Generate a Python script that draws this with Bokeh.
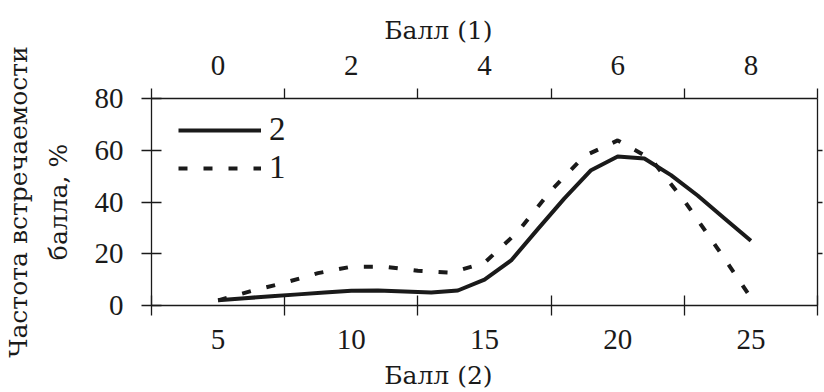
from bokeh.plotting import figure
from bokeh.models import LinearAxis, Range1d, FixedTicker, Legend, LegendItem
from bokeh.embed import file_html
from bokeh.resources import INLINE

# ---- data ----
# series 2 : bottom axis "Балл (2)"
score2 = [5, 6, 7, 8, 9, 10, 11, 12, 13, 14, 15, 16, 17, 18, 19, 20, 21, 22, 23, 24, 25]
freq2 = [2.0, 2.8, 3.6, 4.3, 5.0, 5.7, 5.8, 5.4, 5.0, 5.8, 10.0, 17.4, 29.5, 41.4, 52.3,
         57.6, 56.8, 50.4, 42.5, 33.7, 25.0]
# series 1 : top axis "Балл (1)"
score1 = [0, 0.5, 1, 1.5, 2, 2.5, 3, 3.5, 4, 4.5, 5, 5.5, 6, 6.5, 7, 7.5, 8]
freq1 = [2.0, 5.6, 8.8, 12.5, 15.0, 15.0, 13.4, 12.7, 16.5, 28.5, 44.5, 57.8, 63.8,
         56.6, 40.5, 22.0, 3.0]

bottom_ticks = [5, 10, 15, 20, 25]
bottom_minor = [2.5, 7.5, 12.5, 17.5, 22.5, 27.5]
top_ticks = [0, 2, 4, 6, 8]
top_minor = [-1, 1, 3, 5, 7, 9]
y_ticks = [0, 20, 40, 60, 80]
right_ticks = [20, 40, 60]

label_top = "Балл (1)"
label_bottom = "Балл (2)"
label_y1 = "Частота встречаемости"
label_y2 = "балла, %"
legend_labels = ["2", "1"]

FONT = "'Liberation Serif', 'Times New Roman', serif"
CYR_FONT = "DejaVu Serif"          # serif face that carries Cyrillic glyphs
INK = "#1a1a1a"
FS = "29px"
TFS = "25px"

x_lo, x_hi = 2.5, 27.5
# top scale: score1 = (score2 - 5) * 0.4
p = figure(width=824, height=392, output_backend="svg", toolbar_location=None,
           x_range=Range1d(x_lo, x_hi), y_range=Range1d(0, 80),
           min_border_left=146, min_border_right=7, min_border_top=98, min_border_bottom=87)
p.extra_x_ranges = {"top": Range1d((x_lo - 5) * 0.4, (x_hi - 5) * 0.4)}
p.xgrid.visible = False
p.ygrid.visible = False
p.outline_line_color = None
p.background_fill_color = "white"
p.border_fill_color = "white"

def style_axis(ax, fs=FS):
    ax.axis_line_color = INK
    ax.axis_line_width = 1.3
    ax.major_tick_line_color = INK
    ax.minor_tick_line_color = INK
    ax.major_tick_line_width = 1.3
    ax.minor_tick_line_width = 1.3
    ax.major_label_text_font = FONT
    ax.major_label_text_font_size = fs
    ax.major_label_text_color = INK

bx = p.xaxis[0]
bx.ticker = FixedTicker(ticks=bottom_ticks, minor_ticks=bottom_minor)
bx.major_tick_in = 0
bx.major_tick_out = 0
bx.minor_tick_in = 10
bx.minor_tick_out = 10
bx.major_label_standoff = 14
style_axis(bx)

tx = LinearAxis(x_range_name="top", ticker=FixedTicker(ticks=top_ticks, minor_ticks=top_minor))
tx.major_tick_in = 0
tx.major_tick_out = 0
tx.minor_tick_in = 0
tx.minor_tick_out = 10
tx.major_label_standoff = 14
style_axis(tx)
p.add_layout(tx, "above")

ly = p.yaxis[0]
ly.ticker = FixedTicker(ticks=y_ticks, minor_ticks=[])
ly.major_tick_in = 10
ly.major_tick_out = 10
ly.major_label_standoff = 18
style_axis(ly)

ry = LinearAxis(ticker=FixedTicker(ticks=right_ticks, minor_ticks=[]))
style_axis(ry)
ry.major_tick_in = 0
ry.major_tick_out = 5
ry.major_label_overrides = {t: "" for t in right_ticks}
ry.major_label_standoff = 0
p.add_layout(ry, "right")

r2 = p.line(score2, freq2, line_width=4, line_color=INK, line_join="round")
r1 = p.line(score1, freq1, x_range_name="top", line_width=4, line_color=INK,
            line_dash="9 16")

# axis titles drawn as single labels of bare axes
def title_axis(text, at, standoff, orientation="horizontal"):
    ax = LinearAxis(ticker=FixedTicker(ticks=[at], minor_ticks=[]),
                    major_label_overrides={at: text})
    ax.axis_line_color = None
    ax.major_tick_line_color = None
    ax.minor_tick_line_color = None
    ax.major_tick_in = 0
    ax.major_tick_out = 0
    ax.minor_tick_in = 0
    ax.minor_tick_out = 0
    ax.major_label_standoff = standoff
    ax.major_label_orientation = orientation
    ax.major_label_text_font = CYR_FONT
    ax.major_label_text_font_size = TFS
    ax.major_label_text_color = INK
    return ax

title_x = 13.27      # horizontal centre of both x titles (bottom scale)
title_y = 40         # vertical centre of the y title
p.add_layout(title_axis(label_top, title_x, 8), "above")
p.add_layout(title_axis(label_bottom, title_x, 9), "below")
p.add_layout(title_axis(label_y2, title_y, 19, "vertical"), "left")
p.add_layout(title_axis(label_y1, title_y, 8, "vertical"), "left")

legend = Legend(items=[LegendItem(label=legend_labels[0], renderers=[r2]),
                       LegendItem(label=legend_labels[1], renderers=[r1])],
                location=(27, 119), glyph_width=83, glyph_height=30, label_height=30,
                label_text_font=FONT, label_text_font_size="33px",
                label_text_color=INK,
                label_standoff=8, spacing=1, padding=0, margin=0,
                border_line_color=None, background_fill_alpha=0)
p.add_layout(legend)

open("out.html", "w").write(file_html(p, INLINE))
